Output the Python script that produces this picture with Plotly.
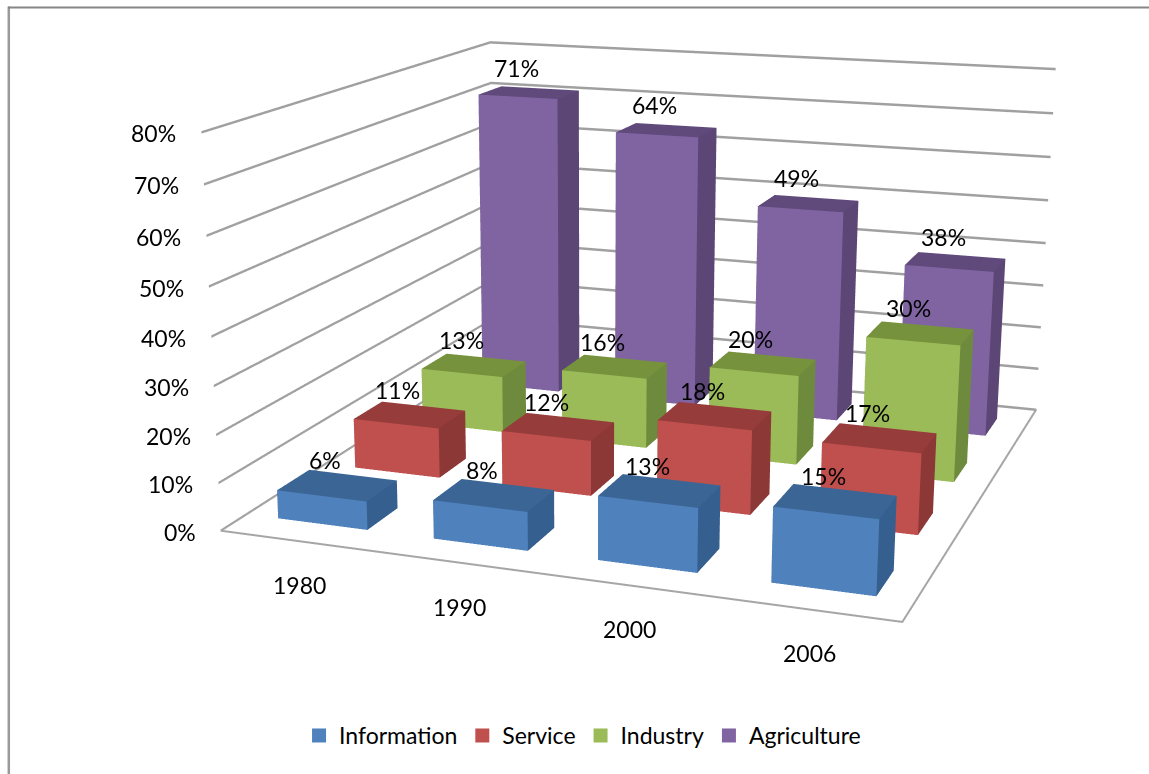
import plotly.graph_objects as go

categories = ["1980", "1990", "2000", "2006"]
series_names = ["Information", "Service", "Industry", "Agriculture"]
information = [6, 8, 13, 15]
service = [11, 12, 18, 17]
industry = [13, 16, 20, 30]
agriculture = [71, 64, 49, 38]
series_values = [information, service, industry, agriculture]
z_ticks = [0, 10, 20, 30, 40, 50, 60, 70, 80]

front_colors = ["#4F81BD", "#C0504D", "#9BBB59", "#8064A2"]
top_colors = ["#3A6595", "#963C3A", "#76923C", "#5F4A7B"]
side_colors = ["#355F8F", "#8C3836", "#6E8B3D", "#5B4676"]

W, H = 1149, 774
# The reference has a long lens; plotly's field of view is fixed, so the page holds a larger
# canvas centred on the window.
ZOOM = 2.3964
Wb, Hb = W*ZOOM, H*ZOOM
OX, OY = (Wb-W)/2, (Hb-H)/2
def px(x): return (x+OX)/Wb
def py(y): return 1-(y+OY)/Hb

BAR_X, BAR_Y = 0.58, 0.40

fig = go.Figure()
for j, vals in enumerate(series_values):
    xs, ys, zs, I, J, K, fc = [], [], [], [], [], [], []
    for i, v in enumerate(vals):
        x0, x1 = i + .5 - BAR_X/2, i + .5 + BAR_X/2
        y0, y1 = j + .5 - BAR_Y/2, j + .5 + BAR_Y/2
        b = len(xs)
        xs += [x0, x1, x1, x0, x0, x1, x1, x0]
        ys += [y0, y0, y1, y1, y0, y0, y1, y1]
        zs += [0, 0, 0, 0, v, v, v, v]
        faces = [((0,1,5),front_colors[j]),((0,5,4),front_colors[j]),
                 ((1,2,6),side_colors[j]),((1,6,5),side_colors[j]),
                 ((4,5,6),top_colors[j]),((4,6,7),top_colors[j]),
                 ((3,0,4),side_colors[j]),((3,4,7),side_colors[j]),
                 ((2,3,7),side_colors[j]),((2,7,6),side_colors[j])]
        for (a, c_, d), col in faces:
            I.append(b+a); J.append(b+c_); K.append(b+d); fc.append(col)
    fig.add_trace(go.Mesh3d(x=xs, y=ys, z=zs, i=I, j=J, k=K, facecolor=fc, flatshading=True,
                            lighting=dict(ambient=1, diffuse=0, specular=0, fresnel=0, roughness=1),
                            hoverinfo="skip", showlegend=False, showscale=False))
    fig.add_trace(go.Scatter3d(x=[None], y=[None], z=[None], mode="markers", name=series_names[j],
                               marker=dict(symbol="square", size=14, color=front_colors[j]), hoverinfo="skip"))

nx, ny = len(categories), len(series_names)
fig.add_trace(go.Scatter3d(x=[0, nx, nx, 0, 0], y=[0, 0, ny, ny, 0], z=[0]*5, mode="lines",
                           line=dict(color="#A6A6A6", width=4), showlegend=False, hoverinfo="skip"))

FS = 23
label_font = dict(family="Lato", size=FS, color="#000")
annots = []
for z in z_ticks:
    annots.append(dict(x=0, y=0, z=z, text=f"{z}%", showarrow=False, xanchor="right", xshift=-23, yshift=-1, font=label_font))
for i, c in enumerate(categories):
    annots.append(dict(x=i+.5, y=0, z=0, text=c, showarrow=False, xshift=1, yshift=-44, font=label_font))
for j, vals in enumerate(series_values):
    for i, v in enumerate(vals):
        annots.append(dict(x=i+.5, y=j+.5, z=v, text=f"{v}%", showarrow=False, xshift=-12, yshift=25, font=label_font))

hidden = dict(showbackground=False, showgrid=False, zeroline=False, showline=False, showticklabels=False,
              ticks="", title="", showspikes=False)
fig.update_layout(
    width=Wb, height=Hb, margin=dict(l=0, r=0, t=0, b=0), paper_bgcolor="white",
    font=label_font,
    scene=dict(
        domain=dict(x=[0, 1], y=[0, 1]),
        xaxis=dict(hidden, range=[0, nx]),
        yaxis=dict(hidden, range=[0, ny]),
        zaxis=dict(hidden, range=[0, 80], tickvals=z_ticks, showgrid=True, gridcolor="#A0A0A0", gridwidth=5),
        aspectmode="manual", aspectratio=dict(x=1.7240, y=1.7628, z=1),
        camera=dict(eye=dict(x=1.8304, y=-5.4890, z=1.3842), center=dict(x=-0.1463, y=-0.2812, z=-0.2191),
                    up=dict(x=-0.0305, y=0.0863, z=1), projection=dict(type="perspective")),
        annotations=annots,
    ),
    legend=dict(orientation="h", x=px(299), xanchor="left", y=py(735), yanchor="middle", font=label_font),
    shapes=[dict(type="line", xref="paper", yref="paper", x0=px(8.7), x1=px(8.7), y0=py(800), y1=py(6),
                 line=dict(color="#999999", width=2.5)),
            dict(type="line", xref="paper", yref="paper", x0=px(8), x1=px(1160), y0=py(7), y1=py(7),
                 line=dict(color="#868686", width=2))],
)
post = f"""
document.body.style.margin='0';
document.body.style.overflow='hidden';
document.documentElement.style.overflow='hidden';
var gd=document.getElementsByClassName('plotly-graph-div')[0];
gd.style.position='absolute';
gd.style.left='{-OX}px';
gd.style.top='{-OY}px';
"""
fig.write_html("out.html", post_script=post, config=dict(displayModeBar=False))
